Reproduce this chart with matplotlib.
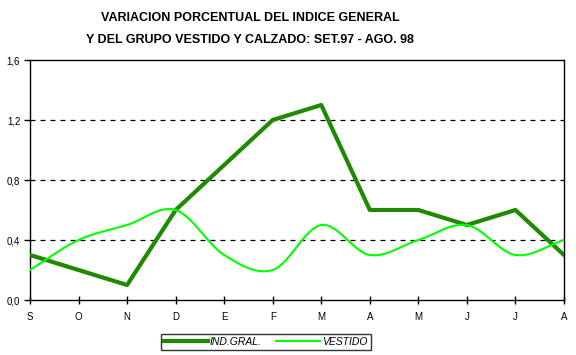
import numpy as np
import matplotlib
matplotlib.use("Agg")
import matplotlib.pyplot as plt

plt.rcParams['font.family'] = ['Liberation Sans', 'DejaVu Sans']

months = ["S", "O", "N", "D", "E", "F", "M", "A", "M", "J", "J", "A"]
ind_gral = [0.3, 0.2, 0.1, 0.6, 0.9, 1.2, 1.3, 0.6, 0.6, 0.5, 0.6, 0.3]
vestido = [0.2, 0.4, 0.5, 0.6, 0.3, 0.2, 0.5, 0.3, 0.4, 0.5, 0.3, 0.4]
yticks = [0.0, 0.4, 0.8, 1.2, 1.6]


def smooth(y, n=30):
    # catmull-rom style curve like excel "smoothed line"
    y = np.asarray(y, float)
    x = np.arange(len(y), dtype=float)
    px = np.concatenate([[2 * x[0] - x[1]], x, [2 * x[-1] - x[-2]]])
    py = np.concatenate([[2 * y[0] - y[1]], y, [2 * y[-1] - y[-2]]])
    xs, ys = [], []
    t = np.linspace(0, 1, n, endpoint=False)
    for i in range(1, len(px) - 2):
        for p, out in ((px, xs), (py, ys)):
            p0, p1, p2, p3 = p[i - 1], p[i], p[i + 1], p[i + 2]
            out.extend(0.5 * ((2 * p1) + (-p0 + p2) * t
                              + (2 * p0 - 5 * p1 + 4 * p2 - p3) * t ** 2
                              + (-p0 + 3 * p1 - 3 * p2 + p3) * t ** 3))
    xs.append(x[-1])
    ys.append(y[-1])
    return np.array(xs), np.array(ys)


fig = plt.figure(figsize=(5.76, 3.55), dpi=100)
ax = fig.add_axes([30 / 576, 55 / 355, 534 / 576, 240 / 355])

x = np.arange(len(months))
ax.plot(x, ind_gral, color="#1f8a00", lw=3.0, label="IND.GRAL.", zorder=3)
sx, sy = smooth(vestido)
ax.plot(sx, sy, color="#00ff00", lw=1.5, label="VESTIDO", zorder=4)

ax.set_xlim(0, len(months) - 1)
ax.set_ylim(0, 1.6)
ax.set_xticks(x)
ax.set_xticklabels(months)
ax.set_yticks(yticks)
ax.set_yticklabels([f"{v:.1f}".replace(".", ",") for v in yticks])
ax.tick_params(axis="both", labelsize=7, length=4, width=1, colors="black")
ax.tick_params(axis="x", direction="inout", length=6, pad=6)
ax.tick_params(axis="y", direction="out", pad=3)
for yv in yticks[1:-1]:
    ax.axhline(yv, color="black", lw=0.9, ls=(0, (4, 4)), zorder=1)
for s in ax.spines.values():
    s.set_linewidth(1.0)

fig.text(250 / 576, 1 - 18 / 355, "VARIACION PORCENTUAL DEL INDICE GENERAL",
         ha="center", va="center", fontsize=9.0, fontweight="bold")
fig.text(250 / 576, 1 - 40 / 355, "Y DEL GRUPO VESTIDO Y CALZADO: SET.97 - AGO. 98",
         ha="center", va="center", fontsize=9.0, fontweight="bold")

leg = fig.legend(loc="center", bbox_to_anchor=(266 / 576, 1 - 342 / 355),
                 ncol=2, frameon=True, fancybox=False,
                 prop={"style": "italic", "size": 7.5}, handlelength=4.2,
                 borderpad=0.3, columnspacing=1.4, handletextpad=0.2,
                 borderaxespad=0)
leg.get_frame().set_edgecolor("black")
leg.get_frame().set_linewidth(1.0)

fig.savefig("out.png", dpi=100)
